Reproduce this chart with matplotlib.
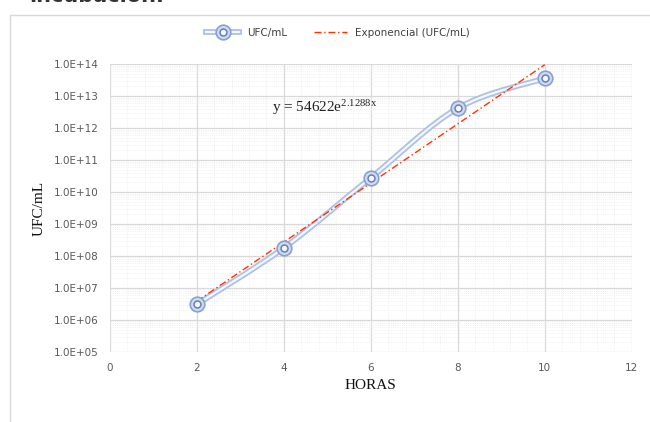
import numpy as np
import matplotlib
matplotlib.use('Agg')
import matplotlib.pyplot as plt
from matplotlib.path import Path
from matplotlib.patches import PathPatch, Rectangle
from matplotlib.lines import Line2D
from matplotlib.ticker import LogLocator, NullFormatter, FuncFormatter, MultipleLocator

plt.rcParams['mathtext.fontset'] = 'custom'
plt.rcParams['mathtext.rm'] = 'Liberation Serif'
plt.rcParams['mathtext.it'] = 'Liberation Serif'

# --- data ---
horas = [2, 4, 6, 8, 10]
ufc = [3.1e6, 1.8e8, 2.8e10, 4.2e12, 3.6e13]
# trend line shown on the chart: y = 54622 e^(2.1288x)
trend_a = 54622
trend_b = 2.1288
trend_x = [2, 10]

fig = plt.figure(figsize=(6.5, 4.22), dpi=100)
ax = fig.add_axes([0.169, 0.166, 0.803, 0.682])

# chart border
fig.patches.append(Rectangle((10 / 650, -0.1), 1.0, (422 - 15) / 422 + 0.1,
                             transform=fig.transFigure, fill=False,
                             edgecolor='#d9d9d9', lw=1))
# caption of the page, cut off at the top edge as in the screenshot
fig.text(0.045, 1 - 2 / 422, 'incubación.', fontsize=15, fontweight='bold',
         color='#333333', va='baseline')

ax.set_yscale('log')
ax.set_xlim(0, 12)
ax.set_ylim(1e5, 1e14)

ax.xaxis.set_major_locator(MultipleLocator(2))
ax.xaxis.set_minor_locator(MultipleLocator(0.4))
ax.yaxis.set_major_locator(LogLocator(base=10, numticks=20))
ax.yaxis.set_minor_locator(LogLocator(base=10, subs=np.arange(2, 10), numticks=20))
ax.yaxis.set_minor_formatter(NullFormatter())
ax.yaxis.set_major_formatter(FuncFormatter(lambda v, p: '1.0E+%02d' % round(np.log10(v))))

ax.grid(which='major', color='#d9d9d9', lw=0.9)
ax.grid(which='minor', color='#ebebeb', lw=0.6, ls=':')
ax.set_axisbelow(True)
for s in ax.spines.values():
    s.set_visible(False)
ax.tick_params(which='both', length=0)
ax.tick_params(labelsize=7.5, labelcolor='#595959', pad=8)

# smoothed line (cubic bezier through the points, done in log space)
lx = np.array(horas, dtype=float)
ly = np.log10(ufc)
verts = [(lx[0], ly[0])]
codes = [Path.MOVETO]
n = len(lx)
for i in range(n - 1):
    p0 = (lx[max(i - 1, 0)], ly[max(i - 1, 0)])
    p1 = (lx[i], ly[i])
    p2 = (lx[i + 1], ly[i + 1])
    p3 = (lx[min(i + 2, n - 1)], ly[min(i + 2, n - 1)])
    c1 = (p1[0] + (p2[0] - p0[0]) / 6, p1[1] + (p2[1] - p0[1]) / 6)
    c2 = (p2[0] - (p3[0] - p1[0]) / 6, p2[1] - (p3[1] - p1[1]) / 6)
    verts += [c1, c2, p2]
    codes += [Path.CURVE4] * 3
verts = [(vx, 10 ** vy) for vx, vy in verts]
path = Path(verts, codes)
ax.add_patch(PathPatch(path, fill=False, edgecolor='#adc1e6', lw=4.2, zorder=3))
ax.add_patch(PathPatch(path, fill=False, edgecolor='#f4f7fc', lw=1.6, zorder=3))

# trend line
tx = np.array(trend_x, dtype=float)
ty = trend_a * np.exp(trend_b * tx)
ax.plot(tx, ty, color='#ff3300', lw=1.0, ls=(0, (5, 2, 1, 2)), zorder=4)

# markers
ax.plot(horas, ufc, ls='none', marker='o', ms=10.5, mfc='#cfdbf2', mec='#8aa0cf', mew=1.2, zorder=5)
ax.plot(horas, ufc, ls='none', marker='o', ms=5, mfc='#f4f7fc', mec='#6680b8', mew=1.1, zorder=6)

ax.text(3.72, 10 ** 12.63, r'y = 54622e$^{\mathrm{2.1288x}}$', fontsize=11,
        family='Liberation Serif', color='#222222', va='center')

ax.set_xlabel('HORAS', fontsize=11, family='Liberation Serif', color='#111111', labelpad=4)
ax.set_ylabel('UFC/mL', fontsize=11, family='Liberation Serif', color='#111111', labelpad=6)

h1 = (Line2D([], [], color='#adc1e6', lw=4.2),
      Line2D([], [], color='#f4f7fc', lw=1.6),
      Line2D([], [], ls='none', marker='o', ms=10.5, mfc='#cfdbf2', mec='#8aa0cf', mew=1.2),
      Line2D([], [], ls='none', marker='o', ms=5, mfc='#f4f7fc', mec='#6680b8', mew=1.1))
h2 = Line2D([], [], color='#ff3300', lw=1.0, ls=(0, (5, 2, 1, 2)))
fig.legend([h1, h2], ['UFC/mL', 'Exponencial (UFC/mL)'], loc='center',
           bbox_to_anchor=(0.52, 0.922), ncol=2, frameon=False, fontsize=7.5,
           labelcolor='#404040', handlelength=3.2, columnspacing=2.5)

fig.savefig('out.png', dpi=100)
